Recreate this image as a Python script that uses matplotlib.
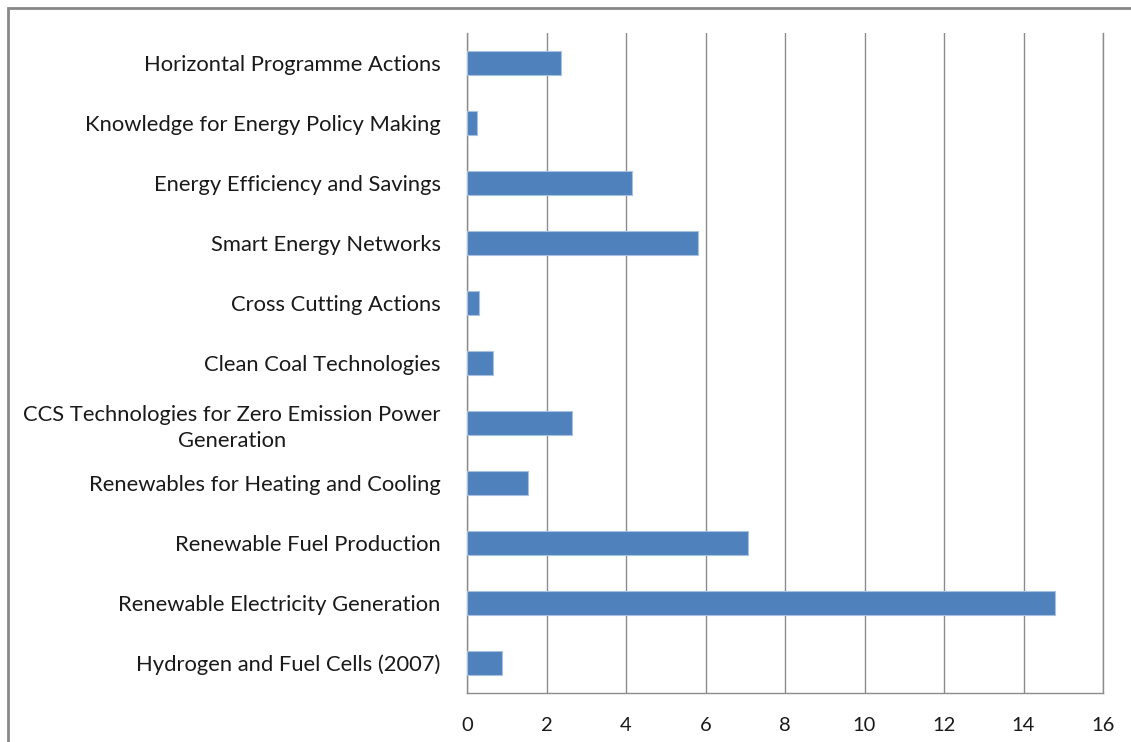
import matplotlib
matplotlib.use('Agg')
import matplotlib.pyplot as plt
from matplotlib.patches import Rectangle

categories = [
    'Hydrogen and Fuel Cells (2007)',
    'Renewable Electricity Generation',
    'Renewable Fuel Production',
    'Renewables for Heating and Cooling',
    'CCS Technologies for Zero Emission Power\nGeneration',
    'Clean Coal Technologies',
    'Cross Cutting Actions',
    'Smart Energy Networks',
    'Energy Efficiency and Savings',
    'Knowledge for Energy Policy Making',
    'Horizontal Programme Actions',
]
values = [0.87, 14.78, 7.08, 1.54, 2.64, 0.66, 0.31, 5.82, 4.15, 0.25, 2.36]
x_ticks = [0, 2, 4, 6, 8, 10, 12, 14, 16]

plt.rcParams['font.family'] = ['Lato', 'DejaVu Sans']

W, H = 1131, 742
fig = plt.figure(figsize=(W / 100, H / 100), dpi=100)
fig.patch.set_facecolor('white')

# plot area in pixels: x 467..1103, y 33..693
ax = fig.add_axes([467 / W, 1 - 693 / H, (1103 - 467) / W, (693 - 33) / H])

grid_col = '#8c8c8c'
ax.barh(range(len(values)), values, height=0.4, color='#4f81bd',
        edgecolor='#a9c1e0', linewidth=0.8, zorder=3)

ax.set_xlim(0, 16)
ax.set_ylim(-0.5, len(values) - 0.5)
ax.set_xticks(x_ticks)
ax.set_yticks(range(len(values)))
ax.set_yticklabels(categories, multialignment='center', linespacing=1.35)

ax.grid(axis='x', color=grid_col, linewidth=1.0, zorder=0)
ax.set_axisbelow(True)
ax.spines['top'].set_visible(False)
for side in ['left', 'bottom', 'right']:
    ax.spines[side].set_color(grid_col)
    ax.spines[side].set_linewidth(1.0)

ax.tick_params(axis='x', length=0, labelsize=14.5, colors='#1a1a1a', pad=17)
ax.tick_params(axis='y', length=0, labelsize=15.8, colors='#1a1a1a', pad=19)

# outer chart border (left and top visible)
fig.patches.append(Rectangle((8 / W, -0.1), 1.2, 1.1 - 8 / H,
                             transform=fig.transFigure, fill=False,
                             edgecolor='#888888', linewidth=2.0))

fig.savefig('out.png', dpi=100, facecolor='white')
